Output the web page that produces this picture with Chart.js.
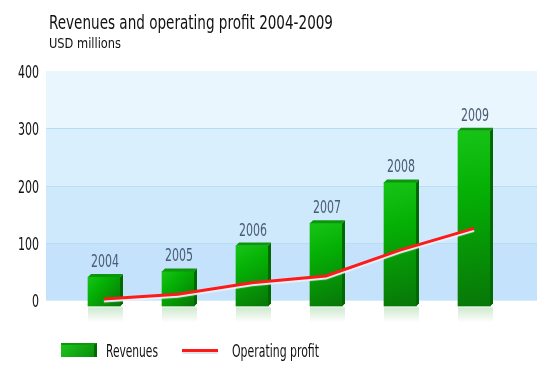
<!DOCTYPE html>
<html>
<head>
<meta charset="utf-8">
<script src="https://cdn.jsdelivr.net/npm/chart.js@4/dist/chart.umd.min.js"></script>
<style>
  html, body { margin: 0; padding: 0; background: #fff; }
  #wrap { position: relative; width: 556px; height: 381px; font-family: 'DejaVu Sans Condensed', 'DejaVu Sans', sans-serif; }
  #chart { position: absolute; left: 0; top: 0; }
  .txt { position: absolute; line-height: 1; white-space: nowrap; color: #111; transform-origin: 0 0; }
  #title { left: 49px; top: 13.4px; font-size: 19px; }
  #subtitle { left: 49px; top: 35.9px; font-size: 14px; }
  .leg { font-size: 17px; top: 342.9px; }
  #legBox { position: absolute; left: 61px; top: 343px; width: 33px; height: 12px;
    background: linear-gradient(135deg, #1cc41c, #0a8f0a); border-right: 3px solid #006a00; border-top: 2px solid #0c9a0c; }
  #legLine { position: absolute; left: 182px; top: 348.5px; width: 36px; height: 3px; background: #ff1a1a;
    box-shadow: 0 2px 0 #e0e6ee; }
</style>
</head>
<body>
<div id="wrap">
  <canvas id="chart" width="556" height="381"></canvas>
  <div class="txt" id="title">Revenues and operating profit 2004-2009</div>
  <div class="txt" id="subtitle">USD millions</div>
  <div id="legBox"></div>
  <div class="txt leg" id="legRev" style="left:106px"></div>
  <div id="legLine"></div>
  <div class="txt leg" id="legOp" style="left:232px"></div>
</div>
<script>
// データ
var years = ['2004', '2005', '2006', '2007', '2008', '2009'];
var revenues = [41, 51, 96, 135, 206, 296];
var operatingProfit = [3, 11, 31, 43, 88, 126];
var yTicks = [0, 100, 200, 300, 400];
var bandColors = ['#c4e2fb', '#cfe9fc', '#d9effd', '#e9f6fd'];

var Y_MIN = -10;
var FONT = "'DejaVu Sans Condensed', 'DejaVu Sans', sans-serif";

// 細い字体が無いので横方向に縮めて幅を合わせる
function fitWidth(el, target) {
  var w = el.getBoundingClientRect().width;
  if (w > 0) el.style.transform = 'scaleX(' + (target / w) + ')';
}

function drawNarrow(ctx, text, x, y, align, targetPerChar) {
  var w = ctx.measureText(text).width;
  var sx = (targetPerChar * text.length) / w;
  ctx.save();
  ctx.translate(x, y);
  ctx.scale(sx, 1);
  ctx.textAlign = align;
  ctx.fillText(text, 0, 0);
  ctx.restore();
}

// 背景の帯（プロット領域より左右に広げる）と目盛りラベル
var bandPlugin = {
  id: 'bands',
  beforeDatasetsDraw: function(chart) {
    var ctx = chart.ctx;
    var y = chart.scales.y;
    var left = chart.chartArea.left - 21;
    var right = chart.chartArea.right + 26;
    ctx.save();
    for (var i = 0; i < yTicks.length - 1; i++) {
      var top = y.getPixelForValue(yTicks[i + 1]);
      var bottom = y.getPixelForValue(yTicks[i]);
      ctx.fillStyle = bandColors[i];
      ctx.fillRect(left, top, right - left, bottom - top);
    }
    ctx.strokeStyle = '#b9dcf3';
    ctx.lineWidth = 1;
    for (var j = 1; j < yTicks.length - 1; j++) {
      var py = Math.round(y.getPixelForValue(yTicks[j])) + 0.5;
      ctx.beginPath();
      ctx.moveTo(left, py);
      ctx.lineTo(right, py);
      ctx.stroke();
    }
    // y軸ラベル
    ctx.fillStyle = '#111';
    ctx.font = '18px ' + FONT;
    ctx.textBaseline = 'middle';
    yTicks.forEach(function(v) {
      drawNarrow(ctx, String(v), 39, y.getPixelForValue(v) + 2, 'right', 7);
    });
    ctx.restore();
  }
};

// 棒の立体部分・映り込み・年ラベル
var bar3dPlugin = {
  id: 'bar3d',
  afterDatasetDraw: function(chart, args) {
    if (args.index !== 0) return;
    var ctx = chart.ctx;
    var meta = chart.getDatasetMeta(0);
    ctx.save();
    meta.data.forEach(function(bar, i) {
      var w = bar.width;
      var l = bar.x - w / 2;
      var r = bar.x + w / 2;
      var t = bar.y;
      var b = bar.base;
      // 右側面
      ctx.fillStyle = '#006a00';
      ctx.beginPath();
      ctx.moveTo(r, t);
      ctx.lineTo(r + 3, t - 3);
      ctx.lineTo(r + 3, b - 3);
      ctx.lineTo(r, b);
      ctx.closePath();
      ctx.fill();
      // 上面
      ctx.fillStyle = '#0c960c';
      ctx.beginPath();
      ctx.moveTo(l, t);
      ctx.lineTo(l + 3, t - 3);
      ctx.lineTo(r + 3, t - 3);
      ctx.lineTo(r, t);
      ctx.closePath();
      ctx.fill();
      // 映り込み
      var g = ctx.createLinearGradient(0, b, 0, b + 16);
      g.addColorStop(0, 'rgba(20,150,20,0.22)');
      g.addColorStop(1, 'rgba(20,150,20,0)');
      ctx.fillStyle = g;
      ctx.fillRect(l, b + 1, w + 3, 16);
      // 年ラベル
      ctx.fillStyle = '#4a5c72';
      ctx.font = '17px ' + FONT;
      ctx.textBaseline = 'alphabetic';
      drawNarrow(ctx, chart.data.labels[i], bar.x + 1, t - 10, 'center', 7);
    });
    ctx.restore();
  }
};

// 折れ線の下の白い影
var lineShadowPlugin = {
  id: 'lineShadow',
  beforeDatasetDraw: function(chart, args) {
    if (args.index !== 1) return;
    var ctx = chart.ctx;
    ctx.save();
    ctx.shadowColor = 'rgba(235,240,248,1)';
    ctx.shadowOffsetY = 2;
    ctx.shadowBlur = 1;
  },
  afterDatasetDraw: function(chart, args) {
    if (args.index !== 1) return;
    chart.ctx.restore();
  }
};

function barGradient(context) {
  var chart = context.chart;
  if (!chart.chartArea) return '#0a9a0a';
  var x = chart.scales.x.getPixelForValue(context.dataIndex);
  var top = chart.scales.y.getPixelForValue(revenues[context.dataIndex]);
  var bottom = chart.scales.y.getPixelForValue(Y_MIN);
  var g = chart.ctx.createLinearGradient(x - 16, top, x + 16, bottom);
  g.addColorStop(0, '#16c416');
  g.addColorStop(0.35, '#05b005');
  g.addColorStop(1, '#087608');
  return g;
}

var chart = new Chart(document.getElementById('chart'), {
  type: 'bar',
  data: {
    labels: years,
    datasets: [
      {
        label: 'Revenues',
        data: revenues,
        base: Y_MIN,
        backgroundColor: barGradient,
        borderWidth: 0,
        barThickness: 32,
        order: 2
      },
      {
        label: 'Operating profit',
        type: 'line',
        data: operatingProfit,
        borderColor: '#ff1a1a',
        borderWidth: 3,
        pointRadius: 0,
        tension: 0,
        fill: false,
        order: 1
      }
    ]
  },
  options: {
    responsive: false,
    animation: false,
    layout: { padding: { left: 0, right: 45, top: 71, bottom: 74.6 } },
    scales: {
      x: { display: false },
      y: {
        min: Y_MIN,
        max: 400,
        afterBuildTicks: function(scale) {
          scale.ticks = yTicks.map(function(v) { return { value: v }; });
        },
        afterFit: function(scale) { scale.width = 67; },
        grid: { display: false, drawTicks: false },
        border: { display: false },
        ticks: { display: false }
      }
    },
    plugins: {
      legend: { display: false },
      tooltip: { enabled: false }
    }
  },
  plugins: [bandPlugin, bar3dPlugin, lineShadowPlugin]
});

document.getElementById('legRev').textContent = chart.data.datasets[0].label;
document.getElementById('legOp').textContent = chart.data.datasets[1].label;

fitWidth(document.getElementById('title'), 284);
fitWidth(document.getElementById('subtitle'), 72);
fitWidth(document.getElementById('legRev'), 52);
fitWidth(document.getElementById('legOp'), 87);
</script>
</body>
</html>
